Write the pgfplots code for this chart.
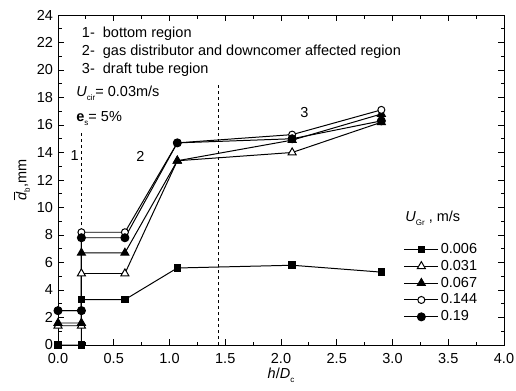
\documentclass[border=0pt]{standalone}
\usepackage{fontspec}
\setmainfont{Liberation Sans}
\usepackage{pgfplots}
\pgfplotsset{compat=1.18}
\newcommand\sub[1]{\raisebox{-0.45ex}{\fontsize{8bp}{8bp}\selectfont #1}}
\begin{document}
\fontsize{14.5bp}{17bp}\selectfont
\begin{tikzpicture}
\begin{axis}[
  at={(0,0)}, anchor=south west,
  scale only axis, width=446bp, height=330bp,
  xmin=0, xmax=4, ymin=0, ymax=24,
  xtick={0,0.5,...,4}, ytick={0,2,...,24},
  minor x tick num=1, minor y tick num=1,
  tick align=inside,
  major tick length=6bp, minor tick length=3.5bp,
  every tick/.style={black, line width=0.9pt},
  axis line style={line width=1pt},
  xticklabel style={yshift=-3bp, /pgf/number format/.cd, fixed, fixed zerofill, precision=1},
  /pgf/number format/assume math mode=true,
  tick label style={font=\fontsize{14.5bp}{17bp}\selectfont},
  xlabel={\textit{h}/\textit{D}\sub{c}},
  ylabel={$\overline{\textit{d}}$\sub{b},mm},
  xlabel style={yshift=5bp},
  ylabel style={yshift=-3bp},
  legend cell align=left,
  legend style={draw=none, fill=none, at={(rel axis cs:0.775,0.06)}, anchor=south west,
    font=\fontsize{14.5bp}{17bp}\selectfont, row sep=0.6bp, inner sep=0pt,
    /tikz/every even column/.append style={column sep=2bp}},
  legend image code/.code={\draw[#1, mark repeat=2, mark phase=2] plot coordinates {(0bp,0bp) (17bp,0bp) (34bp,0bp)};},
  every axis plot/.append style={black, line width=1pt},
]
% region boundaries
\addplot[dashed, line width=0.7pt, forget plot] coordinates {(0.21,0) (0.21,15.4)};
\addplot[dashed, line width=0.7pt, forget plot] coordinates {(1.44,0) (1.44,19.1)};

\addplot[mark=square*, mark size=3.3bp] coordinates {
  (0,0) (0.21,0) (0.21,3.3) (0.6,3.3) (1.07,5.6) (2.1,5.8) (2.9,5.3)};
\addlegendentry{0.006}
\addplot[mark=triangle*, mark size=4.6bp, mark options={fill=white}] coordinates {
  (0,1.4) (0.21,1.4) (0.21,5.2) (0.6,5.2) (1.07,13.4) (2.1,14.0) (2.9,16.2)};
\addlegendentry{0.031}
\addplot[mark=triangle*, mark size=4.6bp] coordinates {
  (0,1.6) (0.21,1.6) (0.21,6.7) (0.6,6.7) (1.07,13.4) (2.1,14.9) (2.9,16.8)};
\addlegendentry{0.067}
\addplot[mark=*, mark size=3.5bp, mark options={fill=white}] coordinates {
  (0,2.5) (0.21,2.5) (0.21,8.2) (0.6,8.2) (1.07,14.7) (2.1,15.3) (2.9,17.1)};
\addlegendentry{0.144}
\addplot[mark=*, mark size=4bp] coordinates {
  (0,2.5) (0.21,2.5) (0.21,7.8) (0.6,7.8) (1.07,14.7) (2.1,15.0) (2.9,16.3)};
\addlegendentry{0.19}

\node[anchor=base west] at (axis cs:0.17,22.38) {1-\ \ bottom region};
\node[anchor=base west] at (axis cs:0.17,21.09) {2-\ \ gas distributor and downcomer affected region};
\node[anchor=base west] at (axis cs:0.17,19.76) {3-\ \ draft tube region};
\node[anchor=base west] at (axis cs:0.12,18.06) {\textit{U}\sub{cir}= 0.03m/s};
\node[anchor=base west] at (axis cs:0.12,16.24) {\textbf{e}\sub{s}= 5\%};
\node at (axis cs:0.15,13.8) {1};
\node at (axis cs:0.74,13.7) {2};
\node at (axis cs:2.21,16.9) {3};
\node[anchor=west] at (axis cs:3.07,9.2) {\textit{U}\sub{Gr} , m/s};
\end{axis}
\pgfresetboundingbox
\path (-58bp,-46bp) rectangle (458bp,345bp);
\end{tikzpicture}
\end{document}
